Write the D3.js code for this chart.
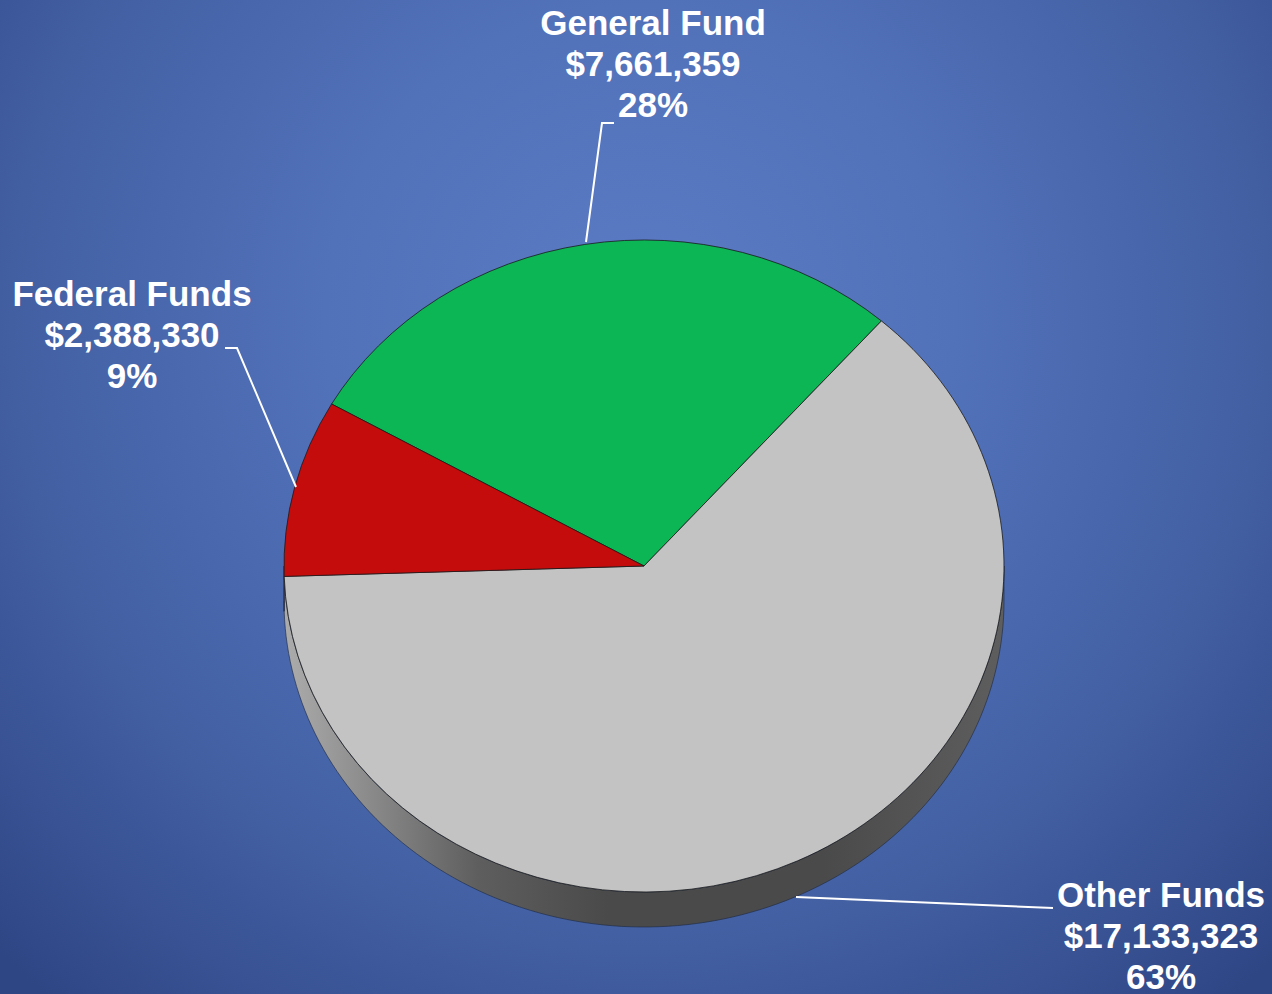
<!DOCTYPE html>
<html>
<head>
<meta charset="utf-8">
<script src="https://cdn.jsdelivr.net/npm/d3@7"></script>
<style>
  html, body { margin: 0; padding: 0; background: #3d5899; }
  svg { display: block; }
  text { font-family: "Liberation Sans", Arial, sans-serif; font-weight: bold; fill: #ffffff; }
</style>
</head>
<body>
<svg id="chart" width="1272" height="994"></svg>
<script>
// Budget sources
const categories = ["General Fund", "Other Funds", "Federal Funds"];
const amounts = [7661359, 17133323, 2388330];
const percentLabels = ["28%", "63%", "9%"];
const sliceColors = ["#0cb655", "#c3c3c3", "#c40c0c"];
const sideColors = ["#087a39", "url(#sideGrad)", "#7d0808"];

const W = 1272, H = 994;
const cx = 644, cy = 566, rx = 360, ry = 326, depth = 35;
const startDeg = -60.2;

const svg = d3.select("#chart");
const defs = svg.append("defs");

// Background glow
const bg = defs.append("radialGradient").attr("id", "bgGrad")
  .attr("gradientUnits", "userSpaceOnUse")
  .attr("cx", 640).attr("cy", 320).attr("r", 900);
[[0, "#5b7bc4"], [0.35, "#5171b9"], [0.7, "#425fa2"], [1, "#2f4685"]]
  .forEach(([o, c]) => bg.append("stop").attr("offset", o).attr("stop-color", c));
svg.append("rect").attr("width", W).attr("height", H).attr("fill", "url(#bgGrad)");

// Shading of the pie's rim
const sg = defs.append("linearGradient").attr("id", "sideGrad")
  .attr("gradientUnits", "userSpaceOnUse")
  .attr("x1", cx - rx).attr("y1", 0).attr("x2", cx + rx).attr("y2", 0);
[[0, "#acacac"], [0.12, "#8a8a8a"], [0.27, "#5e5e5e"], [0.45, "#4a4a4a"], [0.75, "#4a4a4a"], [1, "#5e5e5e"]]
  .forEach(([o, c]) => sg.append("stop").attr("offset", o).attr("stop-color", c));

const pie = d3.pie().sort(null).value(d => d)
  .startAngle(startDeg * Math.PI / 180)
  .endAngle(startDeg * Math.PI / 180 + 2 * Math.PI);
const arcs = pie(amounts);

// Ellipse point for a pie angle (clockwise from 12 o'clock)
const ex = a => cx + rx * Math.sin(a);
const ey = a => cy - ry * Math.cos(a);

// Rim: only the front half (angles between 90° and 270°) faces the viewer
const line = d3.line().x(d => d[0]).y(d => d[1]);
const rimG = svg.append("g");
arcs.forEach((d, i) => {
  const norm = a => { let v = a; while (v < 0) v += 2 * Math.PI; return v; };
  let a0 = norm(d.startAngle), a1 = a0 + (d.endAngle - d.startAngle);
  const segs = [];
  [[Math.PI / 2, 3 * Math.PI / 2], [Math.PI / 2 + 2 * Math.PI, 3 * Math.PI / 2 + 2 * Math.PI]].forEach(([lo, hi]) => {
    const s = Math.max(a0, lo), e = Math.min(a1, hi);
    if (e > s) segs.push([s, e]);
  });
  segs.forEach(([s, e]) => {
    const steps = d3.range(0, 121).map(k => s + (e - s) * k / 120);
    const pts = steps.map(a => [ex(a), ey(a)])
      .concat(steps.slice().reverse().map(a => [ex(a), ey(a) + depth]));
    rimG.append("path")
      .attr("d", line(pts) + "Z")
      .attr("fill", sideColors[i])
      .attr("stroke", "#1e2a44").attr("stroke-width", 0.8).attr("stroke-opacity", 0.8);
  });
});

// Top face
const arc = d3.arc().innerRadius(0).outerRadius(ry);
svg.append("g")
  .attr("transform", `translate(${cx},${cy}) scale(${rx / ry},1)`)
  .selectAll("path").data(arcs).join("path")
  .attr("d", arc)
  .attr("fill", (d, i) => sliceColors[i])
  .attr("stroke", "#1a1a1a").attr("stroke-width", 0.8)
  .attr("vector-effect", "non-scaling-stroke");

// Labels with leader lines
const fmt = d3.format("$,");
const labelSpec = [
  { x: 653, y: 35, leader: [[614, 123], [602, 123], [586, 242]] },
  { x: 1161, y: 907, leader: [[796, 897], [1053, 908]] },
  { x: 132, y: 306, leader: [[225, 348], [237, 348], [296, 487]] }
];
const lblG = svg.append("g");
arcs.forEach((d, i) => {
  const L = labelSpec[i];
  lblG.append("path").attr("d", line(L.leader))
    .attr("fill", "none").attr("stroke", "#ffffff").attr("stroke-width", 2);
  const t = lblG.append("text").attr("text-anchor", "middle").attr("font-size", 35);
  [categories[i], fmt(amounts[i]), percentLabels[i]].forEach((s, k) => {
    t.append("tspan").attr("x", L.x).attr("y", L.y + k * 41).text(s);
  });
});
</script>
</body>
</html>
